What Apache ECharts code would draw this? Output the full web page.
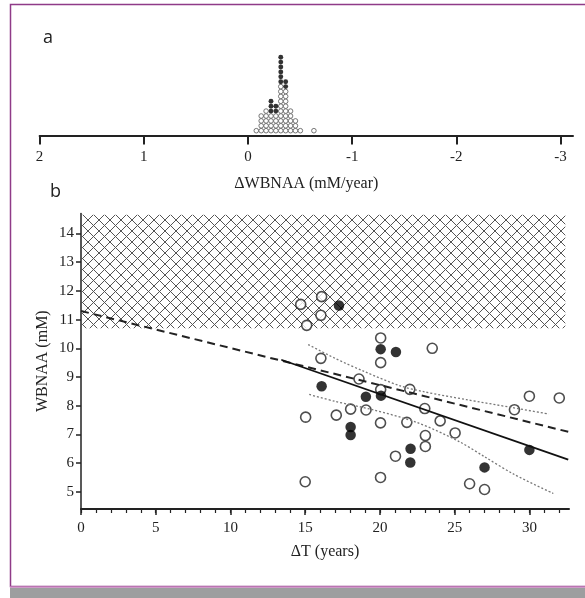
<!DOCTYPE html>
<html>
<head>
<meta charset="utf-8">
<script src="https://cdn.jsdelivr.net/npm/echarts@6/dist/echarts.min.js"></script>
<style>
html,body{margin:0;padding:0;background:#fff;}
#c{width:585px;height:598px;}
</style>
</head>
<body>
<div id="c"></div>
<script>
// ---- Panel a: dot plot of ΔWBNAA (mM/year) ----
const dotBins   = [-0.08, -0.127, -0.174, -0.221, -0.268, -0.315, -0.362, -0.409, -0.456, -0.503, -0.633];
const dotOpen   = [1, 4, 5, 4, 4, 10, 9, 5, 3, 1, 1];
const dotFilled = [0, 0, 0, 3, 2, 6, 2, 0, 0, 0, 0];
const aTicks = [2, 1, 0, -1, -2, -3];

// ---- Panel b: WBNAA vs ΔT ----
const openX = [14.7, 16.1, 16.05, 15.1, 20.05, 20.05, 23.5, 16.05, 18.6, 20.05, 22.0, 30.0, 32.0, 29.0, 23.0,
               18.04, 19.07, 17.08, 15.03, 20.04, 21.8, 24.03, 25.03, 23.04, 23.04, 21.04, 20.04, 15.0, 26.0, 27.0];
const openY = [11.53, 11.8, 11.15, 10.8, 10.36, 9.5, 10.0, 9.65, 8.93, 8.56, 8.57, 8.33, 8.27, 7.86, 7.9,
               7.88, 7.85, 7.67, 7.6, 7.4, 7.42, 7.47, 7.05, 6.96, 6.58, 6.24, 5.5, 5.35, 5.28, 5.08];
const filledX = [17.26, 20.05, 21.07, 16.1, 19.06, 20.07, 18.04, 18.04, 22.05, 22.03, 27.0, 30.0];
const filledY = [11.49, 9.97, 9.87, 8.68, 8.31, 8.35, 7.26, 6.98, 6.5, 6.02, 5.85, 6.46];
const dashedX = [0, 32.6];
const dashedY = [11.3, 7.09];
const solidX = [13.4, 32.6];
const solidY = [9.6, 6.12];
const upperX = [15.2, 17, 19, 21.3, 23, 25.8, 28.9, 31.3];
const upperY = [10.13, 9.65, 9.18, 8.7, 8.48, 8.21, 7.93, 7.71];
const lowerX = [15.27, 17, 19.5, 22.5, 25.3, 27, 29, 31.6];
const lowerY = [8.39, 8.15, 7.86, 7.41, 6.75, 6.22, 5.6, 4.94];
const hatchX = [0, 32.4];
const hatchY = [10.7, 14.65];
const bYTicks = [5, 6, 7, 8, 9, 10, 11, 12, 13, 14];
const bXTicks = [0, 5, 10, 15, 20, 25, 30];
const bXMinor = [0,1,2,3,4,5,6,7,8,9,10,11,12,13,14,15,16,17,18,19,20,21,22,23,24,25,26,27,28,29,30,31,32];

const zip = (xs, ys) => xs.map((x, i) => [x, ys[i]]);

const dotOpenPts = [], dotFilledPts = [];
dotBins.forEach((b, i) => {
  for (let r = 1; r <= dotOpen[i]; r++) dotOpenPts.push([b, r]);
  for (let r = 1; r <= dotFilled[i]; r++) dotFilledPts.push([b, dotOpen[i] + r]);
});

// cross-hatch pattern
const s = 11;
const pc = document.createElement('canvas');
pc.width = s; pc.height = s;
const g = pc.getContext('2d');
g.strokeStyle = '#555';
g.lineWidth = 1;
g.beginPath();
g.moveTo(-2, -2); g.lineTo(s + 2, s + 2);
g.moveTo(s + 2, -2); g.lineTo(-2, s + 2);
g.stroke();

const serif = 'Liberation Serif';
const chart = echarts.init(document.getElementById('c'), null, {renderer: 'canvas'});
chart.setOption({
  animation: false,
  backgroundColor: '#fff',
  grid: [
    {left: 39.6, right: 12, top: 52.3, bottom: 598 - 137.3},
    {left: 81, right: 16, top: 213.4, bottom: 598 - 509}
  ],
  xAxis: [
    {
      gridIndex: 0, type: 'value', position: 'bottom', min: -3.12, max: 2, inverse: true,
      axisLine: {lineStyle: {color: '#222', width: 2}},
      axisTick: {customValues: aTicks, length: 9, lineStyle: {color: '#222', width: 2}},
      axisLabel: {customValues: aTicks, fontFamily: serif, fontSize: 15, color: '#222', margin: 12},
      splitLine: {show: false},
      name: 'ΔWBNAA (mM/year)', nameLocation: 'middle', nameGap: 38, nameMoveOverlap: false,
      nameTextStyle: {fontFamily: serif, fontSize: 16, color: '#222'}
    },
    {
      gridIndex: 1, type: 'value', position: 'bottom', min: 0, max: 32.65,
      axisLine: {lineStyle: {color: '#222', width: 2}},
      axisTick: {customValues: bXTicks, length: 6, lineStyle: {color: '#222', width: 1.5}},
      axisLabel: {customValues: bXTicks, fontFamily: serif, fontSize: 15, color: '#222', margin: 12},
      splitLine: {show: false},
      name: 'ΔT (years)', nameLocation: 'middle', nameGap: 35, nameMoveOverlap: false,
      nameTextStyle: {fontFamily: serif, fontSize: 16, color: '#222'}
    },
    {
      gridIndex: 1, type: 'value', position: 'bottom', offset: 0, min: 0, max: 32.65,
      axisLine: {show: false},
      axisTick: {customValues: bXMinor, length: 4, lineStyle: {color: '#222', width: 1.2}},
      axisLabel: {show: false},
      splitLine: {show: false}
    }
  ],
  yAxis: [
    {gridIndex: 0, type: 'value', min: -0.35, max: 17, show: false},
    {
      gridIndex: 1, type: 'value', min: 4.4, max: 14.7,
      axisLine: {show: true, lineStyle: {color: '#222', width: 1.5}},
      axisTick: {show: true, customValues: bYTicks, length: 5, lineStyle: {color: '#222', width: 1.5}},
      axisLabel: {customValues: bYTicks, fontFamily: serif, fontSize: 15, color: '#222', margin: 7},
      splitLine: {show: false},
      name: 'WBNAA (mM)', nameLocation: 'middle', nameGap: 30, nameMoveOverlap: false,
      nameTextStyle: {fontFamily: serif, fontSize: 16, color: '#222'}
    }
  ],
  series: [
    {
      type: 'scatter', xAxisIndex: 0, yAxisIndex: 0, data: dotOpenPts,
      symbol: 'circle', symbolSize: 4.6,
      itemStyle: {color: '#fff', borderColor: '#555', borderWidth: 1}
    },
    {
      type: 'scatter', xAxisIndex: 0, yAxisIndex: 0, data: dotFilledPts,
      symbol: 'circle', symbolSize: 4.9,
      itemStyle: {color: '#000'}
    },
    {
      type: 'line', xAxisIndex: 1, yAxisIndex: 1, data: [], silent: true,
      markArea: {
        silent: true,
        itemStyle: {color: {image: pc, repeat: 'repeat'}},
        data: [[{coord: [hatchX[0], hatchY[0]]}, {coord: [hatchX[1], hatchY[1]]}]]
      }
    },
    {
      type: 'line', xAxisIndex: 1, yAxisIndex: 1, data: zip(upperX, upperY), showSymbol: false, smooth: 0.3,
      lineStyle: {color: '#777', width: 1.3, type: [2, 2]}
    },
    {
      type: 'line', xAxisIndex: 1, yAxisIndex: 1, data: zip(lowerX, lowerY), showSymbol: false, smooth: 0.3,
      lineStyle: {color: '#777', width: 1.3, type: [2, 2]}
    },
    {
      type: 'scatter', xAxisIndex: 1, yAxisIndex: 1, data: zip(openX, openY),
      symbol: 'circle', symbolSize: 10,
      itemStyle: {color: '#fff', borderColor: '#222', borderWidth: 1.6}
    },
    {
      type: 'scatter', xAxisIndex: 1, yAxisIndex: 1, data: zip(filledX, filledY),
      symbol: 'circle', symbolSize: 10.5,
      itemStyle: {color: '#000'}
    },
    {
      type: 'line', xAxisIndex: 1, yAxisIndex: 1, data: zip(dashedX, dashedY), showSymbol: false,
      lineStyle: {color: '#222', width: 2, type: [8, 5]}
    },
    {
      type: 'line', xAxisIndex: 1, yAxisIndex: 1, data: zip(solidX, solidY), showSymbol: false,
      lineStyle: {color: '#111', width: 1.8}
    }
  ],
  graphic: [
    {type: 'rect', shape: {x: 10.5, y: 4.5, width: 600, height: 582}, style: {fill: null, stroke: '#8f3b88', lineWidth: 1.5}, silent: true},
    {type: 'line', shape: {x1: 10, y1: 587, x2: 585, y2: 587}, style: {stroke: '#c888c0', lineWidth: 1.5}, silent: true},
    {type: 'rect', shape: {x: 10, y: 588, width: 575, height: 10}, style: {fill: '#9d9e9f'}, silent: true},
    {type: 'text', left: 43, top: 29, style: {text: 'a', font: '18px "Open Sans"', fill: '#222'}},
    {type: 'text', left: 50, top: 183, style: {text: 'b', font: '18px "Open Sans"', fill: '#222'}}
  ]
});
</script>
</body>
</html>
